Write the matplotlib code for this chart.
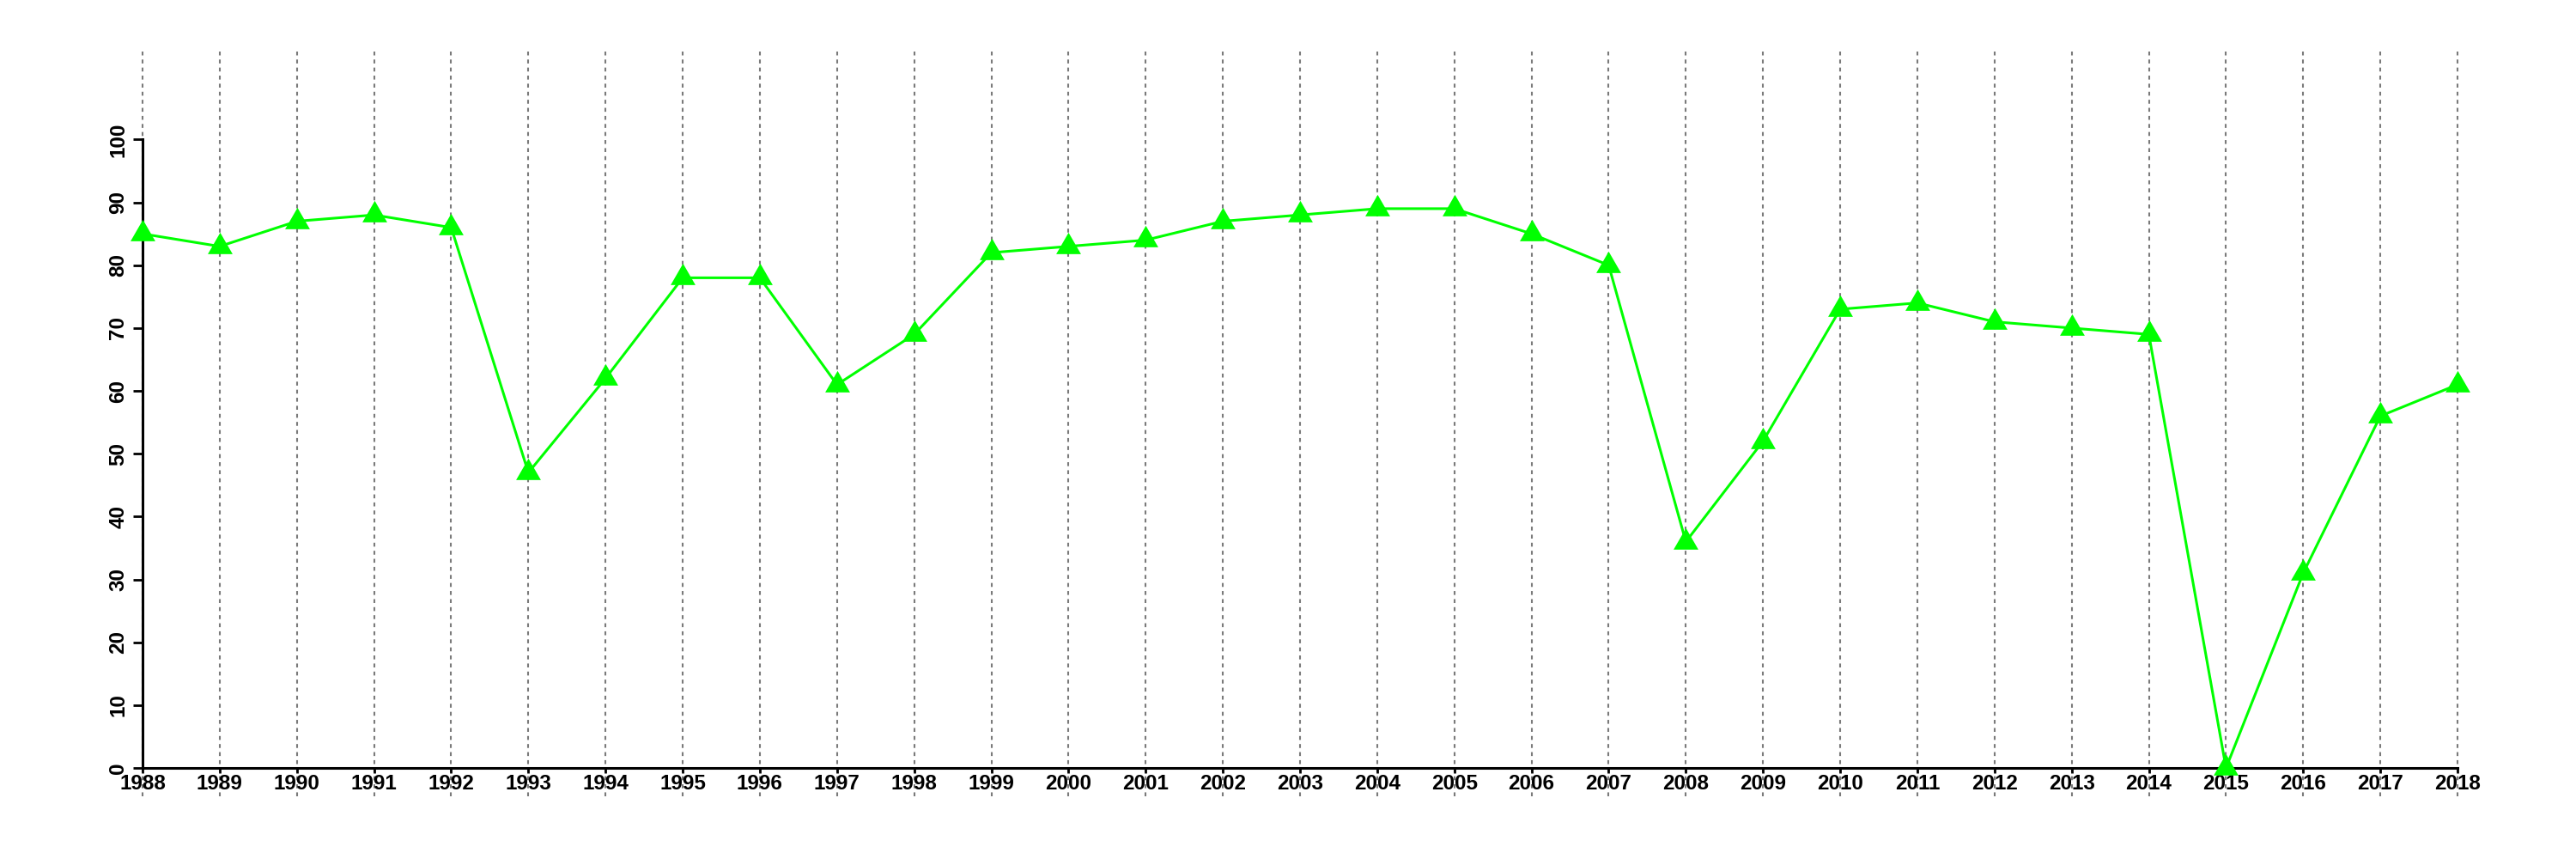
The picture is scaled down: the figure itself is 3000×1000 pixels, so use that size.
import numpy as np
import matplotlib
matplotlib.use('Agg')
import matplotlib.pyplot as plt

years = list(range(1988, 2019))
values = [85, 83, 87, 88, 86, 47, 62, 78, 78, 61, 69, 82, 83, 84, 87, 88, 89, 89,
          85, 80, 36, 52, 73, 74, 71, 70, 69, 0, 31, 56, 61]
yticks = list(range(0, 101, 10))

plt.rcParams['font.family'] = ['Liberation Sans', 'DejaVu Sans']

fig = plt.figure(figsize=(30, 10), dpi=100)
ax = fig.add_axes([166/3000, 1-927/1000, (2862-166)/3000, (927-60)/1000])

#Axis limits stretched so the grid lines run past the plot area
ax.set_xlim(1988, 2018)
ax.set_ylim(-4.5, 114)

#Dotted verticals at every year
ax.vlines(years, -4.5, 114, colors='#7a7a7a', linestyles=(0, (2.2, 2.3)),
          linewidth=1.5, zorder=1, clip_on=False)

ax.plot(years, values, color='#00ff00', linewidth=2.2, marker=(3, 0, 0),
        markersize=24, markeredgewidth=0, clip_on=False, zorder=3)

for s in ['top', 'right']:
    ax.spines[s].set_visible(False)
ax.spines['bottom'].set_position(('data', 0))
ax.spines['left'].set_bounds(0, 100)
ax.spines['bottom'].set_bounds(1988, 2018)
for s in ['left', 'bottom']:
    ax.spines[s].set_linewidth(2.2)
    ax.spines[s].set_zorder(2)

ax.set_xticks(years)
ax.set_xticklabels([str(y) for y in years], fontsize=17.5, fontweight='bold')
ax.set_yticks(yticks)
ax.set_yticklabels([str(v) for v in yticks], fontsize=17.5, fontweight='bold',
                   rotation=90, va='center')
ax.tick_params(axis='x', length=4, width=2, pad=1)
ax.tick_params(axis='y', length=8, width=2, pad=4)

fig.savefig('out.png', dpi=100)
